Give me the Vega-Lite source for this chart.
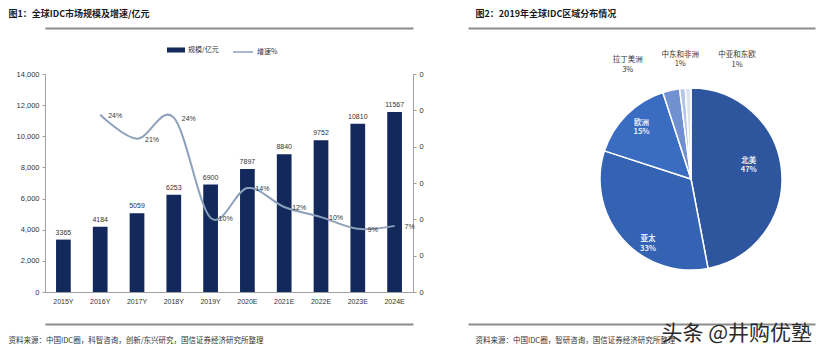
{
  "$schema": "https://vega.github.io/schema/vega-lite/v6.json",
  "background": "white",
  "padding": {"left": 8, "top": 9, "right": 1, "bottom": 0},
  "config": {
    "view": {"stroke": null},
    "font": "Noto Sans CJK SC"
  },
  "title": {"text": "头条 @井购优塾", "orient": "bottom", "anchor": "end", "frame": "group", "offset": -21, "dx": -3, "fontSize": 21, "fontWeight": "normal", "color": "#2a2a2a", "font": "Noto Sans CJK SC"},
  "datasets": {
    "market": [
      {"year": "2015Y", "size": 3365},
      {"year": "2016Y", "size": 4184, "growth": 0.244, "glabel": "24%"},
      {"year": "2017Y", "size": 5059, "growth": 0.211, "glabel": "21%"},
      {"year": "2018Y", "size": 6253, "growth": 0.240, "glabel": "24%"},
      {"year": "2019Y", "size": 6900, "growth": 0.102, "glabel": "10%"},
      {"year": "2020E", "size": 7897, "growth": 0.143, "glabel": "14%"},
      {"year": "2021E", "size": 8840, "growth": 0.117, "glabel": "12%"},
      {"year": "2022E", "size": 9752, "growth": 0.103, "glabel": "10%"},
      {"year": "2023E", "size": 10810, "growth": 0.087, "glabel": "9%"},
      {"year": "2024E", "size": 11567, "growth": 0.091, "glabel": "7%"}
    ],
    "regions": [
      {"region": "北美", "pct": 47, "idx": 1, "label": "北美\n47%"},
      {"region": "亚太", "pct": 33, "idx": 2, "label": "亚太\n33%"},
      {"region": "欧洲", "pct": 15, "idx": 3, "label": "欧洲\n15%"},
      {"region": "拉丁美洲", "pct": 3, "idx": 4, "label": "拉丁美洲\n3%"},
      {"region": "中东和非洲", "pct": 1, "idx": 5, "label": "中东和非洲\n1%"},
      {"region": "中亚和东欧", "pct": 1, "idx": 6, "label": "中亚和东欧\n1%"}
    ]
  },
  "width": 770,
  "height": 218,
  "layer": [
    {
      "data": {"name": "market"},
      "layer": [
        {
          "mark": {"type": "bar"},
          "encoding": {
            "x": {"field": "year", "type": "ordinal", "sort": null,
              "scale": {"range": [0, 368], "paddingInner": 0.6, "paddingOuter": 0.3},
              "axis": {"orient": "bottom", "title": null, "labelAngle": 0, "labelFontSize": 7, "labelFont": "Liberation Sans", "labelColor": "#333", "ticks": false, "domainColor": "#a0a0a0", "labelPadding": 5}},
            "y": {"field": "size", "type": "quantitative", "scale": {"domain": [0, 14000]},
              "axis": {"orient": "left", "title": null, "values": [0, 2000, 4000, 6000, 8000, 10000, 12000, 14000], "format": ",d", "grid": false, "labelFontSize": 7.5, "labelFont": "Liberation Sans", "labelColor": "#333", "domainColor": "#a0a0a0", "tickColor": "#a0a0a0", "tickSize": 3, "labelPadding": 3}},
            "fill": {"datum": "规模/亿元", "type": "nominal",
              "scale": {"domain": ["规模/亿元"], "range": ["#13285B"]},
              "legend": {"orient": "none", "legendX": 122, "legendY": -33, "direction": "horizontal", "title": null, "symbolType": "M-1,-0.28H1V0.28H-1Z", "symbolSize": 324, "symbolStrokeWidth": 0, "labelFontSize": 7, "labelColor": "#333", "labelOffset": 3}}
          }
        },
        {
          "mark": {"type": "text", "dy": -7, "fontSize": 7, "font": "Liberation Sans", "color": "#333"},
          "encoding": {
            "x": {"field": "year", "type": "ordinal", "sort": null, "axis": null},
            "y": {"field": "size", "type": "quantitative", "scale": {"domain": [0, 14000]}, "axis": null},
            "text": {"field": "size", "type": "quantitative", "format": "d"}
          }
        },
        {
          "mark": {"type": "line", "interpolate": "cardinal", "strokeWidth": 2},
          "encoding": {
            "x": {"field": "year", "type": "ordinal", "sort": null,
              "axis": {"orient": "top", "offset": 46, "labels": false, "ticks": false, "domainColor": "#8c8c8c", "domainWidth": 2,
                "title": "图1：全球IDC市场规模及增速/亿元", "titleAnchor": "start", "titleAlign": "left", "titleX": -37, "titleY": -15, "titleFontSize": 9, "titleFontWeight": "bold", "titleColor": "#1a1a1a", "titleBaseline": "middle"}},
            "y": {"field": "growth", "type": "quantitative", "scale": {"domain": [0, 0.3]},
              "axis": {"orient": "right", "offset": -402, "title": null, "values": [0, 0.05, 0.1, 0.15, 0.2, 0.25, 0.3], "format": ".0f", "grid": false, "labelFontSize": 7.5, "labelFont": "Liberation Sans", "labelColor": "#333", "domainColor": "#a0a0a0", "tickColor": "#a0a0a0", "tickSize": 3, "labelPadding": 3}},
            "stroke": {"datum": "增速%", "type": "nominal",
              "scale": {"domain": ["增速%"], "range": ["#8DA0BC"]},
              "legend": {"orient": "none", "legendX": 187, "legendY": -33, "direction": "horizontal", "title": null, "symbolType": "stroke", "symbolSize": 400, "symbolStrokeWidth": 1.5, "labelFontSize": 7, "labelColor": "#333", "labelOffset": 3}}
          }
        },
        {
          "mark": {"type": "text", "dx": 15, "dy": 1, "fontSize": 7, "font": "Liberation Sans", "color": "#333"},
          "encoding": {
            "x": {"field": "year", "type": "ordinal", "sort": null,
              "axis": {"orient": "bottom", "offset": 32, "labels": false, "ticks": false, "domainColor": "#8c8c8c", "domainWidth": 2,
                "title": "资料来源：中国IDC圈，科智咨询，创新/东兴研究，国信证券经济研究所整理", "titleAnchor": "start", "titleAlign": "left", "titleX": -37, "titleY": 16, "titleFontSize": 7.5, "titleFontWeight": "normal", "titleColor": "#333", "titleBaseline": "middle"}},
            "y": {"field": "growth", "type": "quantitative", "scale": {"domain": [0, 0.3]}, "axis": null},
            "text": {"field": "glabel"}
          }
        }
      ],
      "resolve": {"scale": {"y": "independent"}, "axis": {"x": "independent", "y": "independent"}}
    },
    {
      "data": {"name": "regions"},
      "layer": [
        {
          "mark": {"type": "arc", "outerRadius": 91, "stroke": "white", "strokeWidth": 1.5, "xOffset": 261, "yOffset": -4},
          "encoding": {
            "theta": {"field": "pct", "type": "quantitative", "stack": true},
            "order": {"field": "idx", "type": "quantitative"},
            "color": {"field": "region", "type": "nominal", "legend": null,
              "scale": {"domain": ["北美", "亚太", "欧洲", "拉丁美洲", "中东和非洲", "中亚和东欧"], "range": ["#2D569E", "#3563B3", "#3A6CC1", "#7090D2", "#B4C5E5", "#DCE4F2"]}}
          }
        },
        {
          "mark": {"type": "text", "radius": 58, "xOffset": 261, "yOffset": -4, "dy": -13, "lineBreak": "\n", "fontSize": 7.5, "fontWeight": "bold", "color": "#E6ECF7"},
          "encoding": {
            "theta": {"field": "pct", "type": "quantitative", "stack": true},
            "order": {"field": "idx", "type": "quantitative"},
            "text": {"condition": {"test": "datum.region === '北美'", "field": "label"}, "value": ""}
          }
        },
        {
          "mark": {"type": "text", "radius": 76, "xOffset": 261, "yOffset": -4, "dx": 14, "dy": 10, "lineBreak": "\n", "fontSize": 7.5, "fontWeight": "bold", "color": "#E6ECF7"},
          "encoding": {
            "theta": {"field": "pct", "type": "quantitative", "stack": true},
            "order": {"field": "idx", "type": "quantitative"},
            "text": {"condition": {"test": "datum.region === '亚太'", "field": "label"}, "value": ""}
          }
        },
        {
          "mark": {"type": "text", "radius": 70, "xOffset": 261, "yOffset": -4, "dy": -7, "lineBreak": "\n", "fontSize": 7.5, "fontWeight": "bold", "color": "#E6ECF7"},
          "encoding": {
            "theta": {"field": "pct", "type": "quantitative", "stack": true},
            "order": {"field": "idx", "type": "quantitative"},
            "text": {"condition": {"test": "datum.region === '欧洲'", "field": "label"}, "value": ""}
          }
        },
        {
          "mark": {"type": "text", "radius": 125, "xOffset": 261, "yOffset": -4, "dx": -36, "dy": 3, "lineBreak": "\n", "fontSize": 7.5, "color": "#333"},
          "encoding": {
            "theta": {"field": "pct", "type": "quantitative", "stack": true},
            "order": {"field": "idx", "type": "quantitative"},
            "text": {"condition": {"test": "datum.region === '拉丁美洲'", "field": "label"}, "value": ""}
          }
        },
        {
          "mark": {"type": "text", "radius": 125, "xOffset": 261, "yOffset": -4, "dx": 1, "dy": 0, "lineBreak": "\n", "fontSize": 7.5, "color": "#333"},
          "encoding": {
            "theta": {"field": "pct", "type": "quantitative", "stack": true},
            "order": {"field": "idx", "type": "quantitative"},
            "text": {"condition": {"test": "datum.region === '中东和非洲'", "field": "label"}, "value": ""}
          }
        },
        {
          "mark": {"type": "text", "radius": 125, "xOffset": 261, "yOffset": -4, "dx": 50, "dy": 1, "lineBreak": "\n", "fontSize": 7.5, "color": "#333"},
          "encoding": {
            "theta": {"field": "pct", "type": "quantitative", "stack": true},
            "order": {"field": "idx", "type": "quantitative"},
            "text": {"condition": {"test": "datum.region === '中亚和东欧'", "field": "label"}, "value": ""}
          }
        },
        {
          "mark": {"type": "point", "opacity": 0},
          "encoding": {
            "x": {"field": "region", "type": "nominal", "sort": null, "scale": {"range": [423, 770]},
              "axis": {"orient": "top", "offset": 46, "labels": false, "ticks": false, "domainColor": "#8c8c8c", "domainWidth": 2,
                "title": "图2：2019年全球IDC区域分布情况", "titleAnchor": "start", "titleAlign": "left", "titleX": 430, "titleY": -15, "titleFontSize": 9, "titleFontWeight": "bold", "titleColor": "#1a1a1a", "titleBaseline": "middle"}}
          }
        },
        {
          "mark": {"type": "point", "opacity": 0},
          "encoding": {
            "x": {"field": "region", "type": "nominal", "sort": null,
              "axis": {"orient": "bottom", "offset": 32, "labels": false, "ticks": false, "domainColor": "#8c8c8c", "domainWidth": 2,
                "title": "资料来源：中国IDC圈，智研咨询，国信证券经济研究所整理", "titleAnchor": "start", "titleAlign": "left", "titleX": 430, "titleY": 16, "titleFontSize": 7.5, "titleFontWeight": "normal", "titleColor": "#333", "titleBaseline": "middle"}}
          }
        }
      ],
      "resolve": {"axis": {"x": "independent"}}
    }
  ],
  "resolve": {"scale": {"x": "independent", "y": "independent"}, "axis": {"x": "independent", "y": "independent"}}
}
